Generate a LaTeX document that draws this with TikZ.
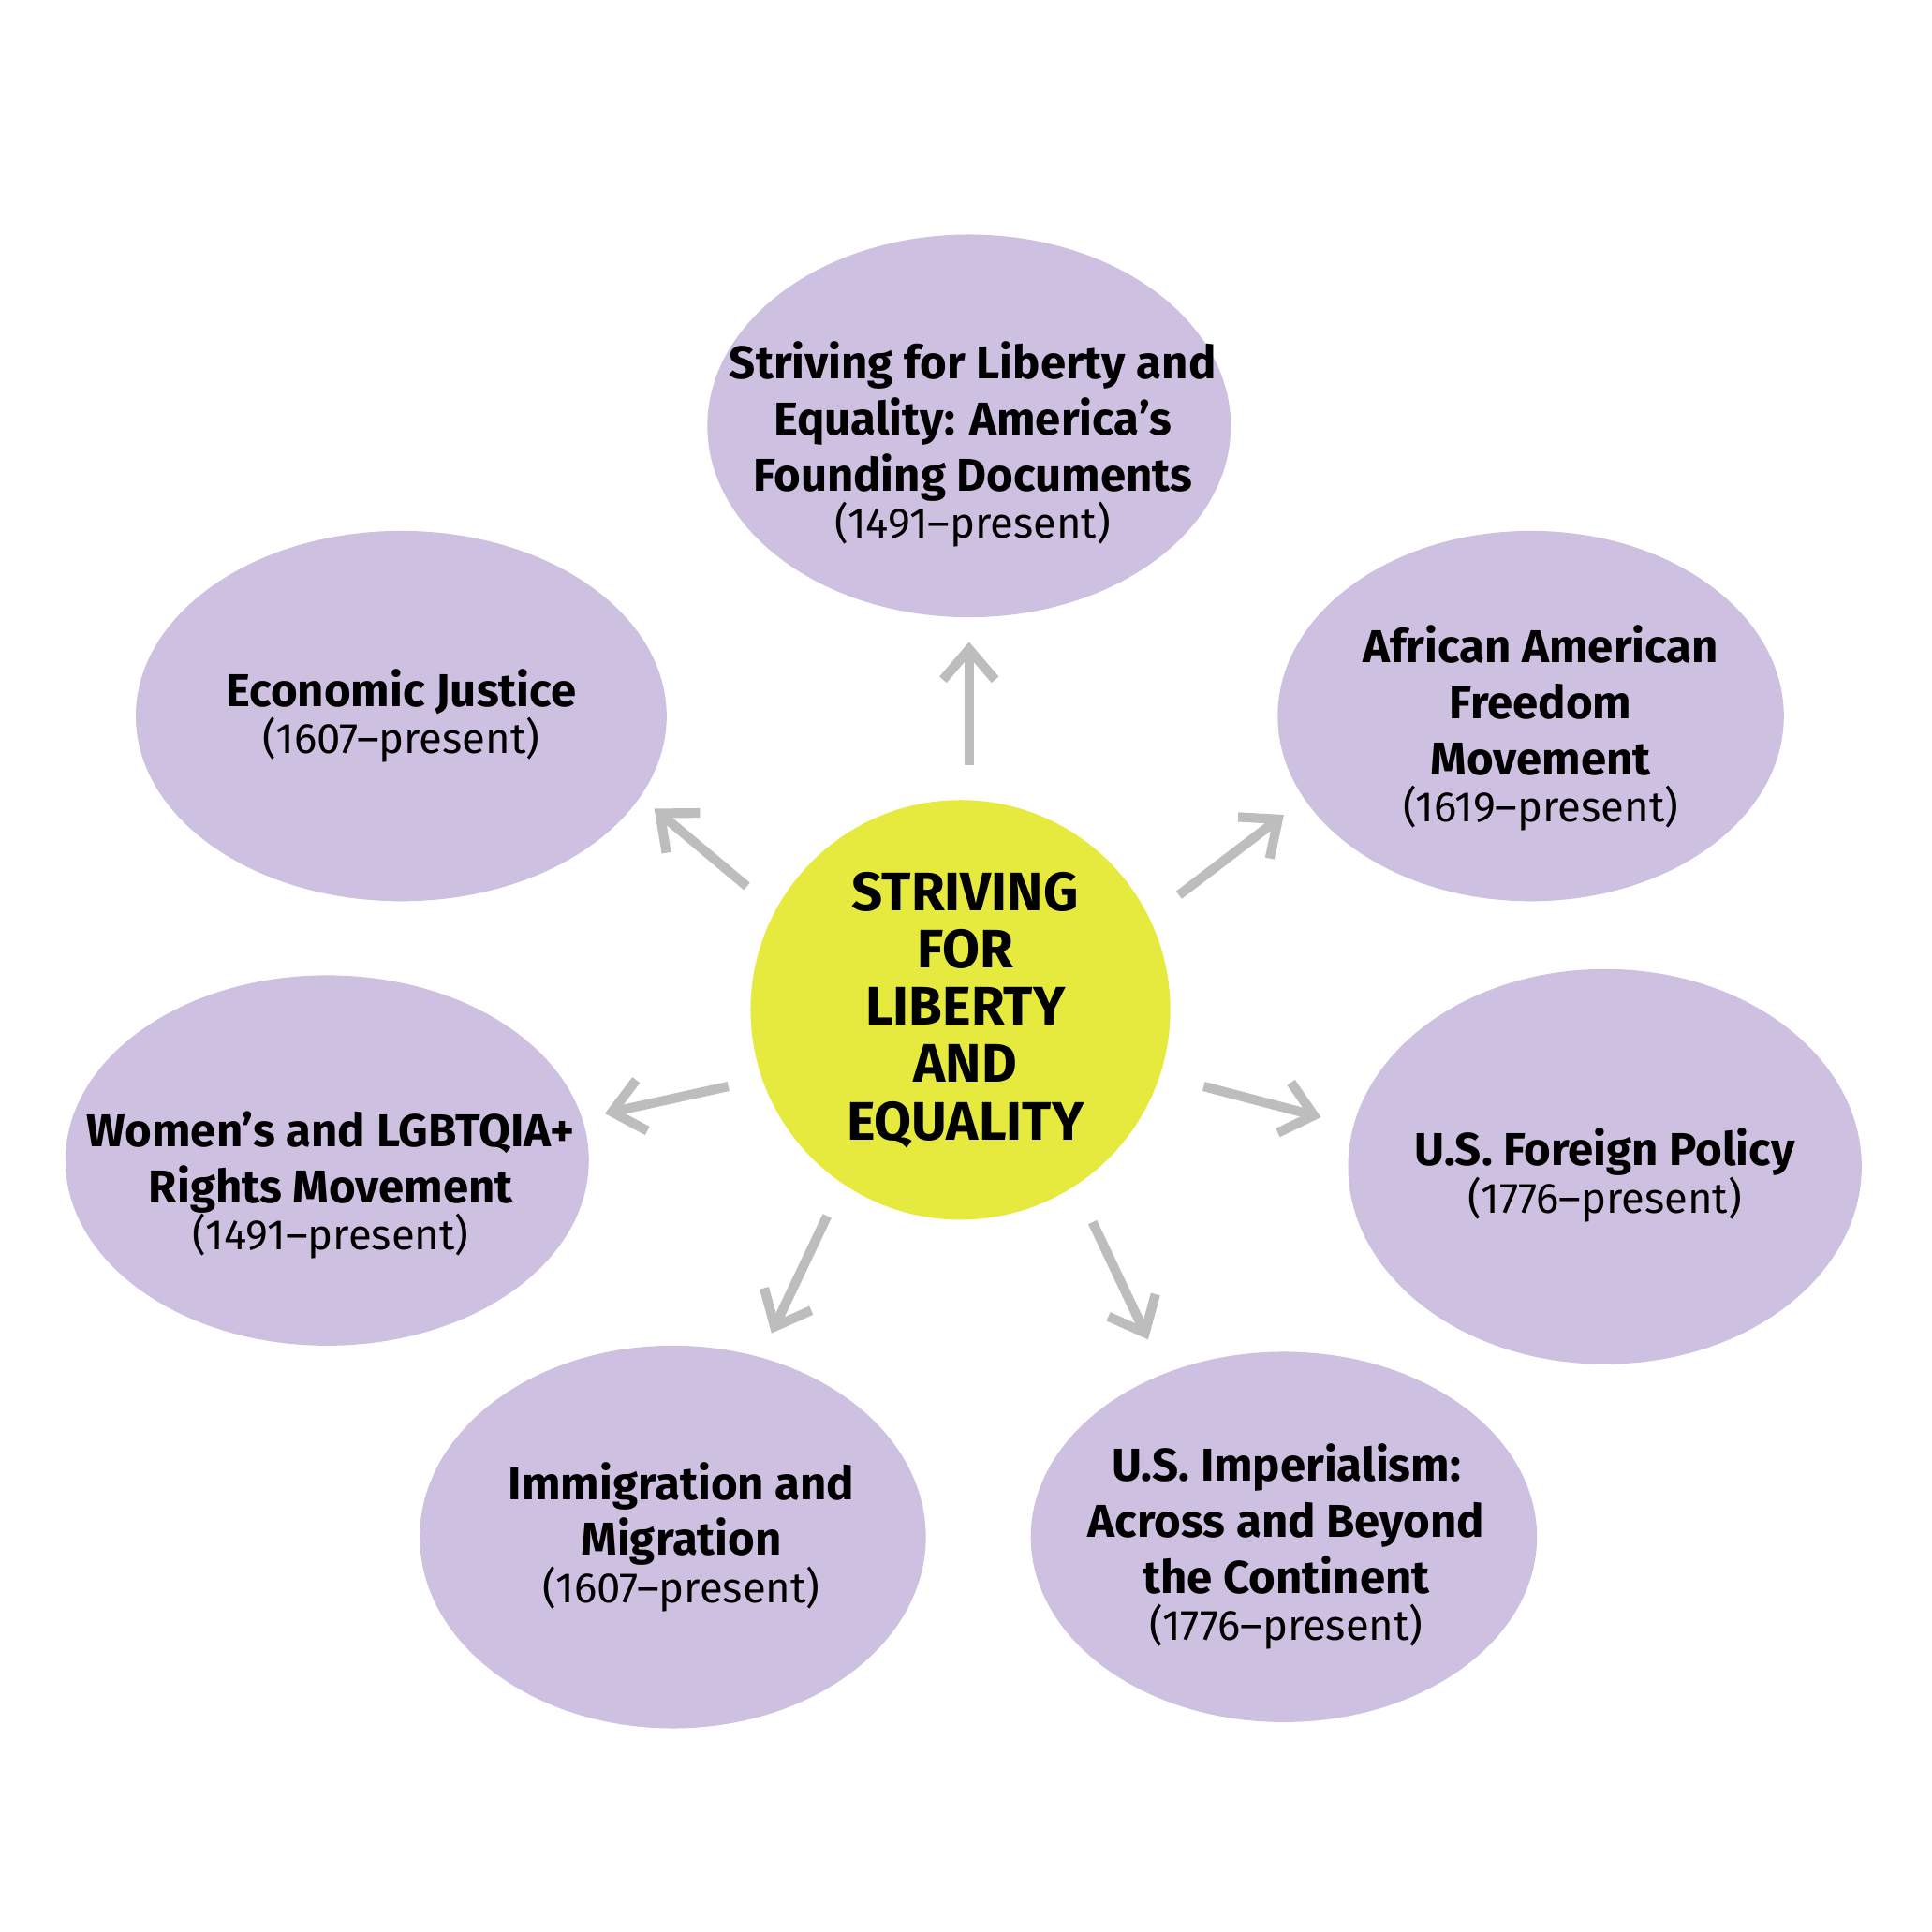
\documentclass[tikz,border=0pt]{standalone}
\usepackage{fontspec}
\setmainfont{Fira Sans}
\usetikzlibrary{calc,arrows.meta}
\definecolor{lav}{HTML}{CDC0E0}
\definecolor{yel}{HTML}{E6EA3E}
\definecolor{arr}{HTML}{BDBDBD}
\tikzset{
  blob/.style={fill=lav,draw=none},
  topic/.style={align=center,font=\fontsize{10.6}{12.9}\selectfont\bfseries},
  arrow/.style={draw=arr,line width=2.2pt,-{Straight Barb[length=7pt,width=12pt]}}
}
\newcommand{\yrs}[1]{\\[-2pt]{\mdseries\fontsize{9.8}{11.5}\selectfont(#1)}}
\begin{document}
\begin{tikzpicture}[x=0.01cm,y=-0.01cm]
    \useasboundingbox (0,0) rectangle (1565,1565);
    % blobs
    \fill[blob] (785,345) ellipse[x radius=212,y radius=155];
    \fill[blob] (325,580) ellipse[x radius=215,y radius=150];
    \fill[blob] (1240,580) ellipse[x radius=205,y radius=150];
    \fill[blob] (265,940) ellipse[x radius=212,y radius=150];
    \fill[blob] (1300,945) ellipse[x radius=208,y radius=160];
    \fill[blob] (545,1245) ellipse[x radius=205,y radius=155];
    \fill[blob] (1040,1245) ellipse[x radius=205,y radius=150];
    \fill[yel] (778,818) circle[radius=170];

    \node[align=center,font=\fontsize{12.5}{13.2}\selectfont\bfseries] (core) at (782,818)
      {STRIVING\\FOR\\LIBERTY\\AND\\EQUALITY};
    \node[topic] (found) at (788,360) {Striving for Liberty and\\Equality: America’s\\Founding Documents\yrs{1491–present}};
    \node[topic] (econ) at (325,580) {Economic Justice\yrs{1607–present}};
    \node[topic] (afam) at (1248,590) {African American\\Freedom\\Movement\yrs{1619–present}};
    \node[topic] (women) at (268,960) {Women’s and LGBTQIA+\\Rights Movement\yrs{1491–present}};
    \node[topic] (foreign) at (1300,952) {U.S. Foreign Policy\yrs{1776–present}};
    \node[topic] (immig) at (552,1245) {Immigration and\\Migration\yrs{1607–present}};
    \node[topic] (imper) at (1042,1253) {U.S. Imperialism:\\Across and Beyond\\the Continent\yrs{1776–present}};

    % arrows
    \coordinate (a1) at (785,620); \coordinate (b1) at (785,520);
    \coordinate (a2) at (605,718); \coordinate (b2) at (530,655);
    \coordinate (a3) at (955,725); \coordinate (b3) at (1040,660);
    \coordinate (a4) at (590,880); \coordinate (b4) at (490,902);
    \coordinate (a5) at (975,880); \coordinate (b5) at (1070,905);
    \coordinate (a6) at (670,985); \coordinate (b6) at (625,1080);
    \coordinate (a7) at (885,990); \coordinate (b7) at (930,1085);
    \foreach \i in {1,...,7}
        \draw[arrow] (a\i) -- (b\i);
\end{tikzpicture}
\end{document}
